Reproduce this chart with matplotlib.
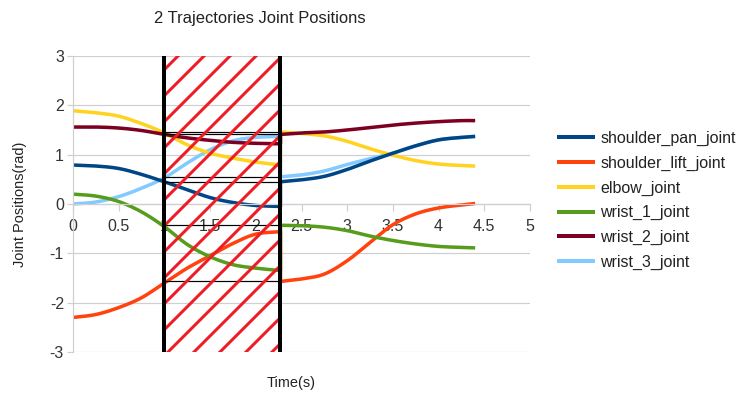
import numpy as np
import matplotlib
matplotlib.use('Agg')
import matplotlib.pyplot as plt
from matplotlib.patches import Rectangle
from matplotlib.ticker import FuncFormatter

# ---------------- data ----------------
joints = ['shoulder_pan_joint', 'shoulder_lift_joint', 'elbow_joint',
          'wrist_1_joint', 'wrist_2_joint', 'wrist_3_joint']
colors = ['#004586', '#ff420e', '#ffd320', '#579d1c', '#7e0021', '#83caff']

# trajectory 1 and trajectory 2 sample times (s)
t1 = [0.0, 0.25, 0.5, 0.75, 1.0, 1.25, 1.5, 1.75, 2.0, 2.27]
t2 = [2.27, 2.5, 2.75, 3.0, 3.25, 3.5, 3.75, 4.0, 4.25, 4.4]

shoulder_pan_1 = [0.79, 0.77, 0.72, 0.60, 0.45, 0.29, 0.13, 0.03, -0.03, -0.05]
shoulder_pan_2 = [0.45, 0.49, 0.56, 0.70, 0.87, 1.03, 1.18, 1.30, 1.35, 1.37]

shoulder_lift_1 = [-2.30, -2.24, -2.10, -1.90, -1.60, -1.30, -1.05, -0.80, -0.61, -0.56]
shoulder_lift_2 = [-1.57, -1.52, -1.42, -1.15, -0.78, -0.42, -0.20, -0.08, -0.02, 0.01]

elbow_1 = [1.89, 1.85, 1.78, 1.63, 1.44, 1.20, 1.03, 0.93, 0.85, 0.79]
elbow_2 = [1.46, 1.43, 1.38, 1.27, 1.12, 0.99, 0.88, 0.81, 0.78, 0.77]

wrist_1_1 = [0.20, 0.16, 0.05, -0.16, -0.46, -0.82, -1.07, -1.23, -1.30, -1.35]
wrist_1_2 = [-0.43, -0.44, -0.47, -0.54, -0.65, -0.74, -0.81, -0.86, -0.88, -0.89]

wrist_2_1 = [1.56, 1.56, 1.54, 1.49, 1.41, 1.34, 1.29, 1.25, 1.23, 1.22]
wrist_2_2 = [1.41, 1.44, 1.46, 1.50, 1.55, 1.60, 1.64, 1.67, 1.69, 1.69]

wrist_3_1 = [0.00, 0.04, 0.15, 0.32, 0.53, 0.83, 1.10, 1.28, 1.35, 1.37]
wrist_3_2 = [0.55, 0.59, 0.67, 0.80, 0.92, 1.03, 1.18, 1.30, 1.35, 1.37]

traj1 = [shoulder_pan_1, shoulder_lift_1, elbow_1, wrist_1_1, wrist_2_1, wrist_3_1]
traj2 = [shoulder_pan_2, shoulder_lift_2, elbow_2, wrist_1_2, wrist_2_2, wrist_3_2]

overlap = [1.0, 2.27]          # hatched overlap window (s)
x_ticks = [0, 0.5, 1, 1.5, 2, 2.5, 3, 3.5, 4, 4.5, 5]
y_ticks = [-3, -2, -1, 0, 1, 2, 3]

title = '2 Trajectories Joint Positions'
xlabel = 'Time(s)'
ylabel = 'Joint Positions(rad)'


def smooth(x, y, n=12):
    """Catmull-Rom rendering of a polyline through the given points."""
    x = np.asarray(x, float)
    y = np.asarray(y, float)
    px = np.concatenate([[2 * x[0] - x[1]], x, [2 * x[-1] - x[-2]]])
    py = np.concatenate([[2 * y[0] - y[1]], y, [2 * y[-1] - y[-2]]])
    s = np.linspace(0, 1, n, endpoint=False)
    ox, oy = [], []
    for i in range(1, len(px) - 2):
        for P, out in ((px, ox), (py, oy)):
            p0, p1, p2, p3 = P[i - 1], P[i], P[i + 1], P[i + 2]
            out.extend(0.5 * (2 * p1 + (-p0 + p2) * s
                              + (2 * p0 - 5 * p1 + 4 * p2 - p3) * s ** 2
                              + (-p0 + 3 * p1 - 3 * p2 + p3) * s ** 3))
    ox.append(x[-1])
    oy.append(y[-1])
    return np.array(ox), np.array(oy)


# ---------------- figure ----------------
W, H, DPI = 740, 398, 156
PT = 72.0 / DPI  # points per pixel
plt.rcParams['font.family'] = ['Liberation Sans', 'DejaVu Sans']
plt.rcParams['hatch.linewidth'] = 3.0 * PT

fig = plt.figure(figsize=(W / DPI, H / DPI), dpi=DPI)
ax = fig.add_axes([73 / W, 1 - 352 / H, (530 - 73) / W, (352 - 56) / H])

grid_c = '#cfcfcf'
ax.set_xlim(0, 5)
ax.set_ylim(-3, 3)
ax.set_xticks(x_ticks)
ax.set_yticks(y_ticks)
fmt = FuncFormatter(lambda v, p: '%g' % v)
ax.xaxis.set_major_formatter(fmt)
ax.yaxis.set_major_formatter(fmt)
ax.grid(axis='y', color=grid_c, linewidth=1.2 * PT)
ax.set_axisbelow(True)
for s in ['top', 'right']:
    ax.spines[s].set_visible(False)
ax.spines['bottom'].set_position(('data', 0))
ax.spines['bottom'].set_color(grid_c)
ax.spines['left'].set_color(grid_c)
ax.spines['bottom'].set_linewidth(1.2 * PT)
ax.spines['left'].set_linewidth(1.2 * PT)
ax.tick_params(axis='x', length=7 * PT, width=1.2 * PT, color=grid_c,
               pad=7.5 * PT, labelsize=16 * PT, labelcolor='#333333')
ax.tick_params(axis='y', length=6 * PT, width=1.2 * PT, color=grid_c,
               pad=3 * PT, labelsize=16 * PT, labelcolor='#333333')

# series
zorders = [2.2, 2.1, 2.1, 2.1, 2.1, 2.0]
for name, c, a, b, z in zip(joints, colors, traj1, traj2, zorders):
    xa, ya = smooth(t1, a)
    xb, yb = smooth(t2, b)
    ax.plot(np.concatenate([xa, xb]), np.concatenate([ya, yb]), color=c,
            linewidth=3.5 * PT, solid_capstyle='butt', label=name, zorder=z,
            solid_joinstyle='round')

# thin black lines across the overlap window at trajectory-2 start values
for b in traj2:
    ax.plot(overlap, [b[0], b[0]], color='black', linewidth=1.2 * PT, zorder=2.6)

# red hatched overlap window
rect = Rectangle((overlap[0], -3), overlap[1] - overlap[0], 6, facecolor='none',
                 edgecolor='#ee1c25', hatch='//', linewidth=0, zorder=2.8)
ax.add_patch(rect)
for xv in overlap:
    ax.axvline(xv, color='black', linewidth=4 * PT, zorder=3)

# texts
fig.text(260 / W, 1 - 18 / H, title, ha='center', va='center',
         fontsize=16.5 * PT, color='#222222')
fig.text(291 / W, 1 - 383 / H, xlabel, ha='center', va='center',
         fontsize=14.5 * PT, color='#222222')
fig.text(20 / W, 1 - 204 / H, ylabel, ha='center', va='center', rotation=90,
         fontsize=14.5 * PT, color='#222222')

leg = ax.legend(loc='upper left', bbox_to_anchor=(557 / W, 1 - 131 / H),
                bbox_transform=fig.transFigure, frameon=False,
                fontsize=16 * PT, handlelength=2.4, handletextpad=0.3,
                labelspacing=0.6, borderpad=0, borderaxespad=0)
for h in leg.get_lines():
    h.set_linewidth(4 * PT)
for tx in leg.get_texts():
    tx.set_color('#222222')

fig.savefig('out.png', dpi=DPI)
